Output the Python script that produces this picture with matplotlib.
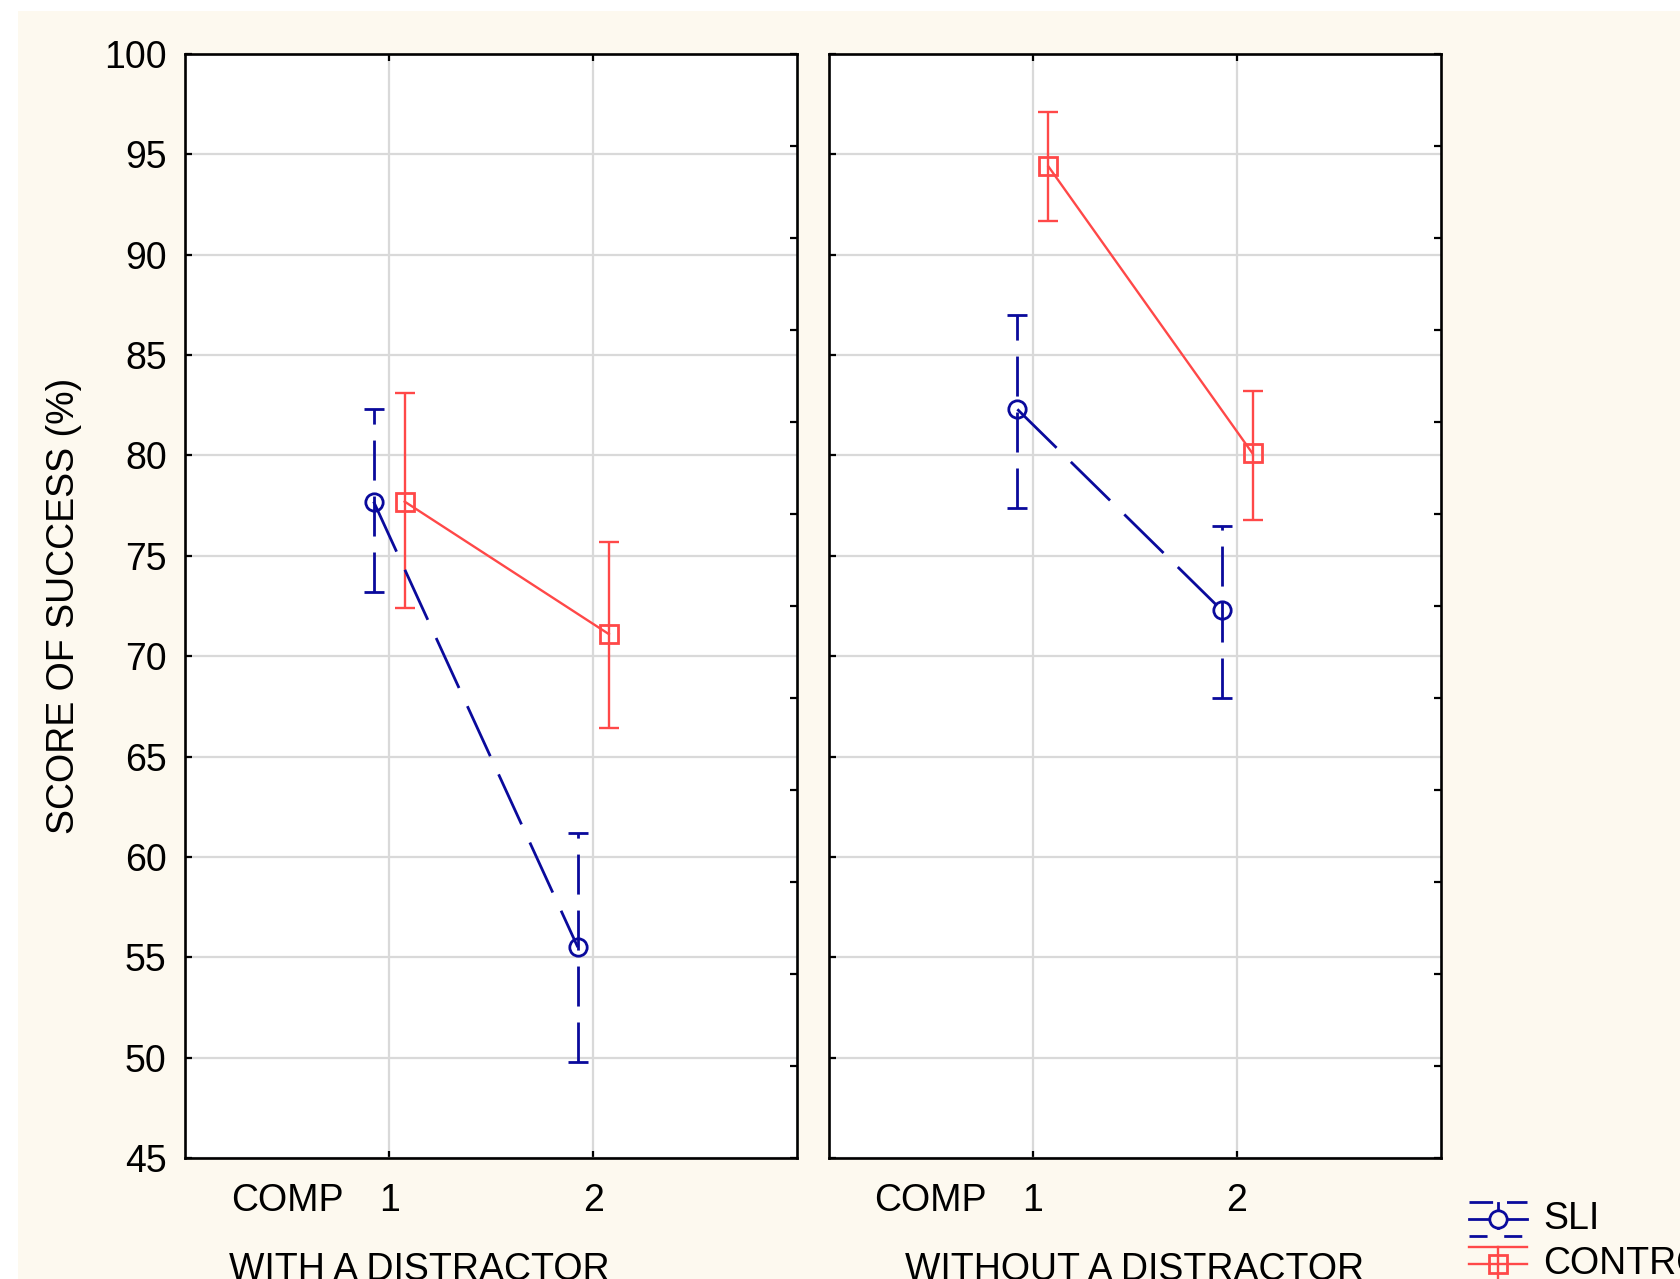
import numpy as np
import matplotlib
matplotlib.use("Agg")
import matplotlib.pyplot as plt
import matplotlib.transforms as mtransforms
from matplotlib.patches import Rectangle

# ---------------- data ----------------
comp_levels = [1, 2]
comp_ticklabels = ["1", "2"]
conditions = ["WITH A DISTRACTOR", "WITHOUT A DISTRACTOR"]
group_names = ["SLI", "CONTROL"]

sli_mean = [[77.7, 55.5], [82.3, 72.3]]
sli_low = [[73.2, 49.8], [77.4, 67.9]]
sli_high = [[82.3, 61.2], [87.0, 76.5]]

ctl_mean = [[77.7, 71.1], [94.4, 80.1]]
ctl_low = [[72.4, 66.4], [91.7, 76.8]]
ctl_high = [[83.1, 75.7], [97.1, 83.2]]

y_ticks = [45, 50, 55, 60, 65, 70, 75, 80, 85, 90, 95, 100]

# ---------------- style ----------------
plt.rcParams['font.family'] = ['Liberation Sans', 'DejaVu Sans']
plt.rcParams['lines.scale_dashes'] = False
FS = 27
BLUE = '#0A0A9C'
RED = '#FF4848'
CREAM = '#FDF9EF'
GRID = '#D9D9D9'
LW_B = 2.0
LW_R = 1.7
MS = 12.5
MEW = 2.0

W, H = 1681, 1279
fig = plt.figure(figsize=(W / 100, H / 100), dpi=100)
fig.patch.set_facecolor('white')
fig.patches.append(Rectangle((18 / W, 0), 1 - 18 / W, 1 - 11 / H,
                             transform=fig.transFigure, facecolor=CREAM,
                             edgecolor='none', zorder=-10))

ax_w = 612.5 / W
ax_h = 1104 / H
bottom = 1 - 1158 / H
lefts = [185 / W, 828.7 / W]
offset = 0.076
line_dash = (0, (39.6, 14.4))
err_dash = (0, (28.8, 11.5))
group_text_x = [1.15, 1.5]

axes = []
for i, cond in enumerate(conditions):
    ax = fig.add_axes([lefts[i], bottom, ax_w, ax_h])
    ax.set_facecolor('white')
    ax.set_xlim(0, 3)
    ax.set_ylim(45, 100)
    ax.set_yticks(y_ticks)
    ax.set_xticks(comp_levels)
    ax.set_xticklabels(comp_ticklabels)
    ax.grid(True, color=GRID, lw=1.6, zorder=0)
    ax.set_axisbelow(True)
    for s in ax.spines.values():
        s.set_linewidth(1.9)
        s.set_color('black')
        s.set_zorder(5)
    ax.tick_params(axis='y', direction='in', length=5, width=1.6,
                   left=True, right=False, labelsize=FS, pad=13.2)
    ax.tick_params(axis='x', direction='in', length=5, width=1.6,
                   bottom=True, top=True, labelsize=FS, pad=18)
    if i > 0:
        ax.tick_params(axis='y', labelleft=False)
    else:
        ax.set_ylabel("SCORE OF SUCCESS (%)", fontsize=FS)
        ax.yaxis.set_label_coords((82 - 185) / 612.5, 0.5)

    # right-side ticks (Statistica style)
    tw = ax.twinx()
    tw.set_ylim(45, 100)
    tw.set_yticks(np.linspace(45, 100, 13))
    tw.tick_params(axis='y', direction='in', length=5, width=1.6,
                   labelright=False, right=True)
    for s in tw.spines.values():
        s.set_visible(False)

    x = np.array(comp_levels, dtype=float)
    # SLI
    m = np.array(sli_mean[i]); lo = np.array(sli_low[i]); hi = np.array(sli_high[i])
    eb = ax.errorbar(x - offset, m, yerr=[m - lo, hi - m], fmt='none',
                     ecolor=BLUE, elinewidth=LW_B, capsize=7.2, capthick=LW_B, zorder=3)
    eb[2][0].set_linestyle(err_dash)
    ax.plot(x - offset, m, linestyle=line_dash, color=BLUE, lw=LW_B,
            marker='o', ms=MS, mfc='none', mec=BLUE, mew=MEW, zorder=4)
    # CONTROL
    m = np.array(ctl_mean[i]); lo = np.array(ctl_low[i]); hi = np.array(ctl_high[i])
    ax.errorbar(x + offset, m, yerr=[m - lo, hi - m], fmt='none',
                ecolor=RED, elinewidth=LW_R, capsize=7.2, capthick=LW_R, zorder=3)
    ax.plot(x + offset, m, linestyle='-', color=RED, lw=LW_R,
            marker='s', ms=MS, mfc='none', mec=RED, mew=MEW, zorder=4)

    trans = mtransforms.blended_transform_factory(ax.transData, ax.transAxes)
    comp_trans = trans + mtransforms.ScaledTranslation(0, -18 / 72, fig.dpi_scale_trans)
    ax.text(0.5, 0, "COMP", transform=comp_trans, ha='center', va='top',
            fontsize=FS, clip_on=False)
    ax.text(group_text_x[i], -0.101, cond, transform=trans, ha='center',
            va='center', fontsize=FS, clip_on=False)
    axes.append(ax)

# ---------------- legend (Statistica-like symbols) ----------------
lg = fig.add_axes([0, 0, 1, 1], facecolor='none', zorder=20)
lg.set_xlim(0, W)
lg.set_ylim(H, 0)
lg.axis('off')
x0, x1, xc = 1469, 1527, 1498
# SLI symbol
yc = 1219
lg.plot([x0, x1], [yc - 17, yc - 17], color=BLUE, lw=LW_B,
        linestyle=(0, (17, 10)), clip_on=False)
lg.plot([x0, x1], [yc + 17, yc + 17], color=BLUE, lw=LW_B,
        linestyle=(0, (13, 12)), clip_on=False)
lg.plot([x0, x1], [yc, yc], color=BLUE, lw=LW_B, clip_on=False)
lg.plot([xc, xc], [yc - 16, yc + 9], color=BLUE, lw=LW_B, clip_on=False)
lg.plot([xc], [yc], marker='o', ms=MS, mfc=CREAM, mec=BLUE, mew=MEW, clip_on=False)
lg.text(1543, yc, group_names[0], fontsize=FS, va='center', ha='left')
# CONTROL symbol
yc = 1264
lg.plot([x0, x1], [yc - 17, yc - 17], color=RED, lw=LW_R, clip_on=False)
lg.plot([x0, x1], [yc, yc], color=RED, lw=LW_R, clip_on=False)
lg.plot([xc, xc], [yc - 17, yc + 20], color=RED, lw=LW_R, clip_on=False)
lg.plot([xc], [yc], marker='s', ms=MS, mfc='none', mec=RED, mew=MEW, clip_on=False)
lg.text(1543, yc, group_names[1], fontsize=FS, va='center', ha='left')

fig.savefig("out.png", dpi=100, facecolor=fig.get_facecolor())
